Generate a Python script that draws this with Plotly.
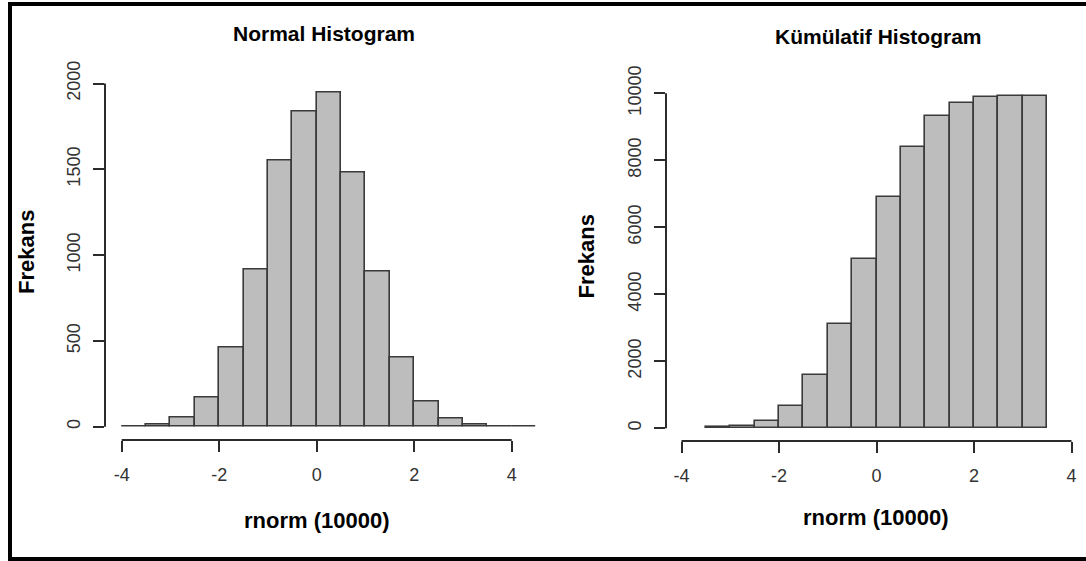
import plotly.graph_objects as go

W, H = 1086, 561

# ---- data ----
normal_left_edges = [-4.0, -3.5, -3.0, -2.5, -2.0, -1.5, -1.0, -0.5, 0.0, 0.5, 1.0, 1.5, 2.0, 2.5, 3.0, 3.5, 4.0]
normal_counts = [3, 10, 52, 169, 460, 917, 1548, 1838, 1949, 1480, 904, 404, 146, 49, 10, 3, 1]

cum_left_edges = [-3.5, -3.0, -2.5, -2.0, -1.5, -1.0, -0.5, 0.0, 0.5, 1.0, 1.5, 2.0, 2.5, 3.0]
cum_counts = [30, 70, 227, 666, 1582, 3108, 5042, 6911, 8406, 9313, 9699, 9881, 9925, 9928]

bin_width = 0.5
x_ticks = [-4, -2, 0, 2, 4]
normal_y_ticks = [0, 500, 1000, 1500, 2000]
cum_y_ticks = [0, 2000, 4000, 6000, 8000, 10000]

titles = ["Normal Histogram", "Kümülatif Histogram"]
x_label = "rnorm (10000)"
y_label = "Frekans"

# ---- styling / layout geometry (pixels) ----
FONT = "Liberation Sans, Arial, sans-serif"
BAR_FILL = "#bdbdbd"
BAR_LINE = "#3a3a3a"
AX = "#2b2b2b"
TICK_FONT = dict(family=FONT, size=18, color="#333333")

panels = [
    # x zero px, px per unit, x domain px, y zero px, px per unit, y domain px (top, bottom)
    dict(x0=316.7, xs=48.75, xd=(105, 540), y0=426.7, ys=0.1716, yd=(76.6, 440)),
    dict(x0=876.5, xs=48.75, xd=(666, 1080), y0=428.3, ys=0.0335, yd=(86, 441)),
]

def px(xp):
    return xp / W

def py(yp):
    return (H - yp) / H

fig = go.Figure()

fig.add_trace(go.Bar(
    x=normal_left_edges, y=normal_counts, width=bin_width, offset=0,
    marker=dict(color=BAR_FILL, line=dict(color=BAR_LINE, width=1.6)),
    xaxis="x", yaxis="y", showlegend=False, hoverinfo="x+y"))

fig.add_trace(go.Bar(
    x=cum_left_edges, y=cum_counts, width=bin_width, offset=0,
    marker=dict(color=BAR_FILL, line=dict(color=BAR_LINE, width=1.6)),
    xaxis="x2", yaxis="y2", showlegend=False, hoverinfo="x+y"))

shapes = []
axes = {}
for i, (p, yt) in enumerate(zip(panels, [normal_y_ticks, cum_y_ticks])):
    sfx = "" if i == 0 else str(i + 1)
    xr = [(p["xd"][0] - p["x0"]) / p["xs"], (p["xd"][1] - p["x0"]) / p["xs"]]
    yr = [(p["y0"] - p["yd"][1]) / p["ys"], (p["y0"] - p["yd"][0]) / p["ys"]]
    axes["xaxis" + sfx] = dict(
        domain=[px(p["xd"][0]), px(p["xd"][1])], range=xr, anchor="y" + sfx,
        tickmode="array", tickvals=x_ticks, ticktext=[str(v) for v in x_ticks],
        ticks="outside", ticklen=11, tickwidth=1.8, tickcolor=AX,
        showline=False, showgrid=False, zeroline=False, automargin=False,
        tickfont=TICK_FONT, ticklabelstandoff=7, fixedrange=True)
    axes["yaxis" + sfx] = dict(
        domain=[py(p["yd"][1]), py(p["yd"][0])], range=yr, anchor="x" + sfx,
        tickmode="array", tickvals=yt, ticktext=[str(v) for v in yt],
        ticks="outside", ticklen=11, tickwidth=1.8, tickcolor=AX,
        showline=False, showgrid=False, zeroline=False, automargin=False,
        tickfont=TICK_FONT, tickangle=-90, ticklabelstandoff=6, fixedrange=True)
    # R-style detached axis lines spanning first..last tick (paper coords via the same scale)
    ax_x0 = p["x0"] + x_ticks[0] * p["xs"]
    ax_x1 = p["x0"] + x_ticks[-1] * p["xs"]
    ax_y0 = p["y0"] - yt[0] * p["ys"]
    ax_y1 = p["y0"] - yt[-1] * p["ys"]
    shapes.append(dict(type="line", xref="paper", yref="paper",
                       x0=px(p["xd"][0]), x1=px(p["xd"][0]), y0=py(ax_y0), y1=py(ax_y1),
                       line=dict(color=AX, width=2)))
    shapes.append(dict(type="line", xref="paper", yref="paper",
                       x0=px(ax_x0), x1=px(ax_x1), y0=py(p["yd"][1]), y1=py(p["yd"][1]),
                       line=dict(color=AX, width=2)))

fig.update_layout(**axes)

# frame
shapes.append(dict(type="path", xref="paper", yref="paper",
                   path=f"M {px(10)} {py(H + 5)} L {px(10)} {py(4)} L {px(W + 5)} {py(4)}",
                   line=dict(color="black", width=4)))
shapes.append(dict(type="line", xref="paper", yref="paper", x0=px(10), x1=px(W + 5),
                   y0=py(559), y1=py(559), line=dict(color="black", width=4)))

ann = []
def text(s, xp, yp, size, angle=0):
    ann.append(dict(text=s, x=px(xp), y=py(yp), xref="paper", yref="paper",
                    showarrow=False, xanchor="center", yanchor="middle", textangle=angle,
                    font=dict(family=FONT, size=size, color="black")))

text("<b>" + titles[0] + "</b>", 324, 33, 21)
text("<b>" + titles[1] + "</b>", 878.5, 36, 21)
text("<b>" + x_label + "</b>", 316.7, 520, 22)
text("<b>" + x_label + "</b>", 876.3, 517, 22)
text("<b>" + y_label + "</b>", 26, 252, 22, -90)
text("<b>" + y_label + "</b>", 586.7, 256.7, 22, -90)

fig.update_layout(
    template="none",
    width=W, height=H, margin=dict(l=0, r=0, t=0, b=0, pad=0), autosize=False,
    paper_bgcolor="white", plot_bgcolor="white",
    shapes=shapes, annotations=ann, bargap=0, showlegend=False,
)

fig.write_html("out.html", include_plotlyjs=True, config={"displayModeBar": False})
